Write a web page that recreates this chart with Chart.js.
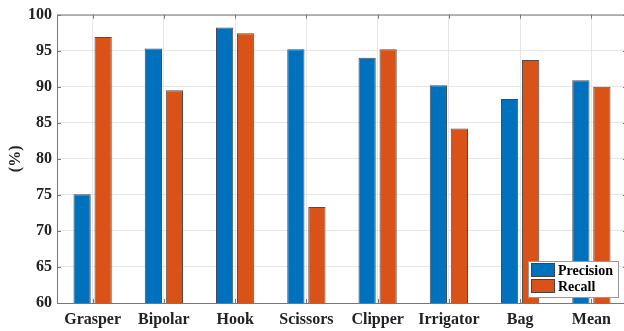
<!DOCTYPE html>
<html>
<head>
<meta charset="utf-8">
<script src="https://cdn.jsdelivr.net/npm/chart.js@4.4.0/dist/chart.umd.min.js"></script>
<style>
  html, body { margin: 0; padding: 0; background: #fff; overflow: hidden; }
  #wrap { position: relative; width: 628px; height: 331px; }
</style>
</head>
<body>
<div id="wrap"><canvas id="chart"></canvas></div>
<script>
// Chart data
const categories = ['Grasper', 'Bipolar', 'Hook', 'Scissors', 'Clipper', 'Irrigator', 'Bag', 'Mean'];
const precision = [75.1, 95.3, 98.2, 95.2, 94.0, 90.2, 88.3, 90.9];
const recall = [96.9, 89.5, 97.4, 73.3, 95.2, 84.2, 93.7, 90.0];
const yTicks = [60, 65, 70, 75, 80, 85, 90, 95, 100];

const FONT = '"Liberation Serif", "Times New Roman", serif';

// Box around plot area with inward tick marks (MATLAB style)
const boxPlugin = {
    id: 'box',
    afterDatasetsDraw(chart) {
        const { ctx, chartArea: a, scales } = chart;
        ctx.save();
        ctx.strokeStyle = '#777';
        ctx.lineWidth = 1;
        ctx.strokeRect(a.left + 0.5, a.top + 0.5, a.right - a.left - 1, a.bottom - a.top);
        ctx.beginPath();
        scales.x.ticks.forEach((t, i) => {
            const x = Math.round(scales.x.getPixelForTick(i)) + 0.5;
            ctx.moveTo(x, a.bottom); ctx.lineTo(x, a.bottom - 4);
            ctx.moveTo(x, a.top); ctx.lineTo(x, a.top + 4);
        });
        yTicks.forEach(v => {
            const y = Math.round(scales.y.getPixelForValue(v)) + 0.5;
            ctx.moveTo(a.left, y); ctx.lineTo(a.left + 4, y);
            ctx.moveTo(a.right, y); ctx.lineTo(a.right - 4, y);
        });
        ctx.stroke();
        ctx.restore();
    },
    afterDraw(chart) {
        // legend in lower right corner of the plot
        const { ctx, chartArea: a } = chart;
        const boxW = 90, boxH = 36;
        const x0 = 528, y0 = a.bottom - 42;
        ctx.save();
        ctx.fillStyle = '#fff';
        ctx.fillRect(x0, y0, boxW, boxH);
        ctx.strokeStyle = '#999';
        ctx.lineWidth = 1;
        ctx.strokeRect(x0 + 0.5, y0 + 0.5, boxW, boxH);
        ctx.font = 'bold 14px ' + FONT;
        ctx.textBaseline = 'middle';
        chart.data.datasets.forEach((ds, i) => {
            const yy = y0 + 2 + i * 16;
            ctx.fillStyle = ds.backgroundColor;
            ctx.fillRect(x0 + 3, yy, 24, 14);
            ctx.strokeStyle = '#444';
            ctx.strokeRect(x0 + 3.5, yy + 0.5, 23, 13);
            ctx.fillStyle = '#000';
            ctx.fillText(ds.label, x0 + 30, yy + 8);
        });
        ctx.restore();
    }
};

new Chart(document.getElementById('chart'), {
    type: 'bar',
    data: {
        labels: categories,
        datasets: [{
            label: 'Precision',
            data: precision,
            backgroundColor: '#0072BD',
            borderColor: 'rgba(20,30,50,0.8)',
            borderWidth: 1,
            barPercentage: 0.82,
            categoryPercentage: 0.59
        }, {
            label: 'Recall',
            data: recall,
            backgroundColor: '#D95319',
            borderColor: 'rgba(50,25,15,0.8)',
            borderWidth: 1,
            barPercentage: 0.82,
            categoryPercentage: 0.59
        }]
    },
    options: {
        responsive: true,
        maintainAspectRatio: false,
        animation: false,
        layout: { padding: { top: 14, right: 1, left: 0, bottom: 0 } },
        plugins: {
            legend: { display: false },
            tooltip: { enabled: false }
        },
        scales: {
            x: {
                grid: { offset: false, color: '#e6e6e6', drawTicks: false },
                border: { display: false },
                ticks: {
                    color: '#222',
                    padding: 7,
                    font: { family: FONT, size: 16, weight: 'bold' }
                },
                afterFit(scale) { scale.height = 28; }
            },
            y: {
                min: 60,
                max: 100,
                afterBuildTicks(scale) { scale.ticks = yTicks.map(v => ({ value: v })); },
                grid: { color: '#e6e6e6', drawTicks: false },
                border: { display: false },
                ticks: {
                    color: '#222',
                    padding: 5,
                    font: { family: FONT, size: 16, weight: 'bold' }
                },
                title: {
                    display: true,
                    text: '(%)',
                    color: '#222',
                    padding: { top: 6, bottom: 0 },
                    font: { family: FONT, size: 16, weight: 'bold' }
                },
                afterFit(scale) { scale.width = 57; }
            }
        }
    },
    plugins: [boxPlugin]
});
</script>
</body>
</html>
